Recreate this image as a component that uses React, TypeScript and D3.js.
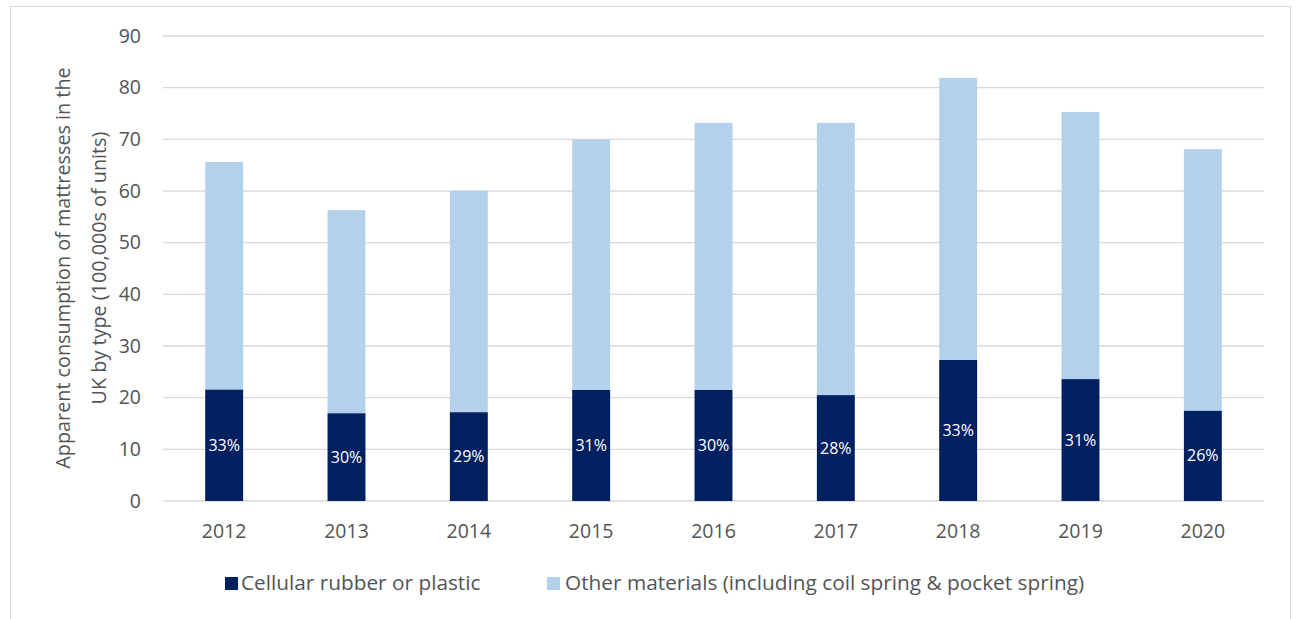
import React from "react";
import * as d3 from "d3";

const years = ["2012", "2013", "2014", "2015", "2016", "2017", "2018", "2019", "2020"];
const cellular = [21.6, 17.0, 17.2, 21.5, 21.5, 20.5, 27.3, 23.6, 17.5];
const totals = [65.6, 56.3, 60.0, 70.0, 73.2, 73.2, 81.9, 75.3, 68.1];
const shareLabels = ["33%", "30%", "29%", "31%", "30%", "28%", "33%", "31%", "26%"];
const yTicks = [0, 10, 20, 30, 40, 50, 60, 70, 80, 90];
const seriesNames = ["Cellular rubber or plastic", "Other materials (including coil spring & pocket spring)"];
const colors = ["#002060", "#B4D1EC"];

const W = 1298;
const H = 619;
const FONT = "'Open Sans', 'Noto Sans', sans-serif";
const TXT = "#545454";

export default function App() {
  const left = 163;
  const right = 1264;
  const top = 36;
  const bottom = 501;
  const x = d3.scaleBand().domain(years).range([left, right]).paddingInner(0.69).paddingOuter(0.345);
  const y = d3.scaleLinear().domain([0, 90]).range([bottom, top]);
  const bw = x.bandwidth();
  const other = totals.map((t, i) => t - cellular[i]);

  return (
    <svg width={W} height={H} style={{ position: "absolute", left: 0, top: 0, fontFamily: FONT }}>
      <rect x={0} y={0} width={W} height={H} fill="#fff" />
      <rect x={10.5} y={6.5} width={1280} height={640} fill="none" stroke="#d9d9d9" strokeWidth={1} />
      {yTicks.map((t) => (
        <g key={t}>
          <line x1={left} x2={right} y1={y(t)} y2={y(t)} stroke="#d9d9d9" strokeWidth={t === 0 ? 1.5 : 1.3} />
          <text x={141} y={y(t)} dy="0.35em" textAnchor="end" fontSize={19.5} fill={TXT}>
            {t}
          </text>
        </g>
      ))}
      {years.map((yr, i) => {
        const bx = x(yr)!;
        return (
          <g key={yr}>
            <rect x={bx} y={y(cellular[i])} width={bw} height={y(0) - y(cellular[i])} fill={colors[0]} />
            <rect x={bx} y={y(cellular[i] + other[i])} width={bw} height={y(cellular[i]) - y(cellular[i] + other[i])} fill={colors[1]} />
            <text x={bx + bw / 2} y={(y(0) + y(cellular[i])) / 2} dy="0.35em" textAnchor="middle" fontSize={16} fill="#fff">
              {shareLabels[i]}
            </text>
            <text x={bx + bw / 2} y={531} dy="0.35em" textAnchor="middle" fontSize={19.5} fill={TXT}>
              {yr}
            </text>
          </g>
        );
      })}
      <g transform="translate(63,268) rotate(-90)">
        <text x={0} y={0} textAnchor="middle" fontSize={19.8} fill={TXT} dy="0.35em">
          Apparent consumption of mattresses in the
        </text>
        <text x={0} y={36} textAnchor="middle" fontSize={19.8} fill={TXT} dy="0.35em">
          UK by type (100,000s of units)
        </text>
      </g>
      <g>
        <rect x={225} y={577} width={13} height={13} fill={colors[0]} />
        <text x={241} y={583} dy="0.35em" fontSize={20.8} fill={TXT}>
          {seriesNames[0]}
        </text>
        <rect x={547} y={577} width={13} height={13} fill={colors[1]} />
        <text x={565} y={583} dy="0.35em" fontSize={20.8} fill={TXT}>
          {seriesNames[1]}
        </text>
      </g>
    </svg>
  );
}
